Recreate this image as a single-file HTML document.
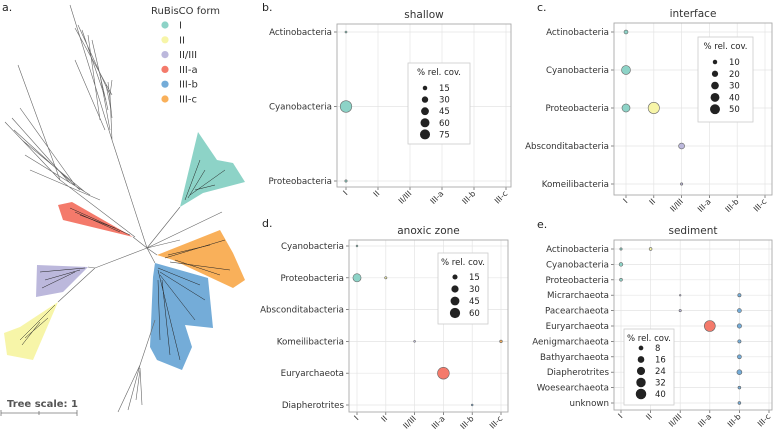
<!DOCTYPE html>
<html><head><meta charset="utf-8"><style>
body{margin:0;background:#fff;}
svg{display:block;font-family:"DejaVu Sans","Liberation Sans",sans-serif;}
</style></head><body>
<svg id="fig" width="777" height="434" viewBox="0 0 777 434">
<g id="tree">
<text x="2" y="11" font-size="11" fill="#222">a.</text>
<polygon points="180,207 198,132 217,160 233,163 245,182 203,193" fill="#8dd3c7"/>
<polygon points="58,205 72,202 133,237 63,220" fill="#f47a6b"/>
<polygon points="37,265 88,267 63,292 36,297" fill="#bcb8dc"/>
<polygon points="58,302 33,360 7,355 4,333 20,327" fill="#f7f5a8"/>
<polygon points="157,255 220,230 233,253 245,280 233,288 173,260" fill="#f9b05a"/>
<polygon points="155,263 208,278 213,328 185,325 192,347 182,370 157,360 150,347 153,277" fill="#74acd8"/>
<g stroke="#666" stroke-width="0.6" fill="none">
<path d="M147,248 L133,237 M147,248 L95,268 L88,267 M95,268 L58,302 M147,248 L180,207 M147,248 L157,255 M147,248 L155,263 M147,248 L222,212 M147,248 L180,240"/>
<path d="M147,248 L112,140 L70,5 M112,140 L110,95 L78,25 M110,95 L112,80 M105,130 L75,60 M100,120 L88,35 M108,110 L92,40 M106,100 L82,30"/>
<path d="M135,237 L60,180 L18,65 M60,180 L5,122 M80,190 L14,130 M90,195 L25,155 M75,185 L20,108 M100,200 L30,170 M70,183 L12,118 M85,192 L22,140"/>
<path d="M155,320 L140,365 L118,412 M140,365 L128,410 M140,368 L142,405 M140,370 L136,400"/>
<path d="M75,28 L112,95 M108,82 L112,118 M106,85 L111,110 M100,75 L110,130"/>
</g>
<g stroke="#222" stroke-width="0.5">
<path d="M185,200 L200,160 M190,195 L225,170 M195,190 L215,185 M188,198 L205,170"/>
<path d="M70,208 L130,235 M75,212 L120,232 M80,215 L115,228"/>
<path d="M40,272 L85,268 M45,280 L80,270 M42,288 L75,272"/>
<path d="M20,340 L55,305 M25,338 L48,318 M22,345 L40,322"/>
<path d="M165,258 L225,240 M170,262 L230,270 M175,260 L220,275 M168,255 L210,245"/>
<path d="M158,268 L200,285 M158,270 L180,360 M160,275 L195,320 M162,280 L170,355 M160,272 L205,300 M158,280 L160,340"/>
</g>
<text x="7" y="407" font-size="10" font-weight="bold" fill="#555">Tree scale: 1</text>
<path d="M1,413 L77,413 M1,410 L1,416 M39,411 L39,415 M77,410 L77,416" stroke="#777" stroke-width="0.8"/>
<text x="151" y="14" font-size="10" fill="#333">RuBisCO form</text>
<g id="treeLegend"></g>
</g>
<g id="panels"></g>
</svg>
<script>
const forms = ["I","II","II/III","III-a","III-b","III-c"];
const formColors = ["#8dd3c7","#f7f5a8","#bcb8dc","#f47a6b","#74acd8","#f9b05a"];

const bTaxa = ["Actinobacteria","Cyanobacteria","Proteobacteria"];
const bTaxon = ["Actinobacteria","Cyanobacteria","Proteobacteria"];
const bForm = ["I","I","I"];
const bCov = [3,100,4];
const bLegend = [15,30,45,60,75];

const cTaxa = ["Actinobacteria","Cyanobacteria","Proteobacteria","Absconditabacteria","Komeilibacteria"];
const cTaxon = ["Actinobacteria","Cyanobacteria","Proteobacteria","Proteobacteria","Absconditabacteria","Komeilibacteria"];
const cForm = ["I","I","I","II","II/III","II/III"];
const cCov = [8,41,33,65,18,3];
const cLegend = [10,20,30,40,50];

const dTaxa = ["Cyanobacteria","Proteobacteria","Absconditabacteria","Komeilibacteria","Euryarchaeota","Diapherotrites"];
const dTaxon = ["Cyanobacteria","Proteobacteria","Proteobacteria","Komeilibacteria","Komeilibacteria","Euryarchaeota","Diapherotrites"];
const dForm = ["I","I","II","II/III","III-c","III-a","III-b"];
const dCov = [2,38,3,2,4,80,2];
const dLegend = [15,30,45,60];

const eTaxa = ["Actinobacteria","Cyanobacteria","Proteobacteria","Micrarchaeota","Pacearchaeota","Euryarchaeota","Aenigmarchaeota","Bathyarchaeota","Diapherotrites","Woesearchaeota","unknown"];
const eTaxon = ["Actinobacteria","Actinobacteria","Cyanobacteria","Proteobacteria","Micrarchaeota","Micrarchaeota","Pacearchaeota","Pacearchaeota","Euryarchaeota","Euryarchaeota","Aenigmarchaeota","Bathyarchaeota","Diapherotrites","Woesearchaeota","unknown"];
const eForm = ["I","II","I","I","II/III","III-b","II/III","III-b","III-a","III-b","III-b","III-b","III-b","III-b","III-b"];
const eCov = [2,3,5,3,1,4,2,6,44,7,4,6,9,3,3];
const eLegend = [8,16,24,32,40];

const NS="http://www.w3.org/2000/svg";
function mk(tag,attrs,parent){const e=document.createElementNS(NS,tag);for(const k in attrs)e.setAttribute(k,attrs[k]);parent.appendChild(e);return e;}

const tl=document.getElementById('treeLegend');
forms.forEach((f,i)=>{
  const y=25+i*14.8;
  const c=mk('circle',{cx:165,cy:y,r:3.6,fill:formColors[i]},tl);
  
  
  const t=mk('text',{x:179,y:y+3.5,'font-size':10,fill:'#333'},tl);
  t.textContent=f;
  
  
});

const panels=[
 {id:'b',title:'shallow',box:[337,24,511,187],x0:346,x1:506,y0:32,y1:181,taxa:bTaxa,taxon:bTaxon,form:bForm,cov:bCov,leg:bLegend,k:0.58,lab:[262,11],lb:[408,63,470,144],ly0:88,ldy:11.6},
 {id:'c',title:'interface',box:[614,23,772,195],x0:626,x1:765,y0:32,y1:184,taxa:cTaxa,taxon:cTaxon,form:cForm,cov:cCov,leg:cLegend,k:0.7,lab:[537,11],lb:[698,37,753,122],ly0:62,ldy:11.8},
 {id:'d',title:'anoxic zone',box:[349,240,508,412],x0:357,x1:501,y0:246,y1:405,taxa:dTaxa,taxon:dTaxon,form:dForm,cov:dCov,leg:dLegend,k:0.66,lab:[262,227],lb:[438,253,488,324],ly0:277,ldy:12},
 {id:'e',title:'sediment',box:[614,240,772,410],x0:621,x1:769,y0:249,y1:403,taxa:eTaxa,taxon:eTaxon,form:eForm,cov:eCov,leg:eLegend,k:0.83,lab:[537,228],lb:[624,329,674,405],ly0:348,ldy:11.5}
];
const root=document.getElementById('panels');
panels.forEach(p=>{
  const g=mk('g',{},root);
  
  
  const xs=f=>p.x0+forms.indexOf(f)*(p.x1-p.x0)/(forms.length-1);
  const ys=t=>p.y0+p.taxa.indexOf(t)*(p.y1-p.y0)/Math.max(1,p.taxa.length-1);
  const rs=v=>p.k*Math.sqrt(v);
  const [bx0,by0,bx1,by1]=p.box;
  const lab=mk('text',{x:p.lab[0],y:p.lab[1],'font-size':11,fill:'#222'},g);
  lab.textContent=p.id+'.';
  
  
  const ti=mk('text',{x:(bx0+bx1)/2,y:by0-6,'font-size':10.5,fill:'#333','text-anchor':'middle'},g);
  ti.textContent=p.title;
  
  
  forms.forEach(f=>{
    const x=xs(f);
    const l=mk('line',{x1:x,x2:x,y1:by0,y2:by1,stroke:'#e4e4e4','stroke-width':0.7},g);
    
    
    mk('line',{x1:x,x2:x,y1:by1,y2:by1+3,stroke:'#555','stroke-width':0.7},g);
    const t=mk('text',{x:x+2,y:by1+7,'font-size':8,fill:'#333','text-anchor':'end',transform:`rotate(-45 ${x+2} ${by1+7})`},g);
    t.textContent=f;
    
    
  });
  p.taxa.forEach(tx=>{
    const y=ys(tx);
    const l=mk('line',{x1:bx0,x2:bx1,y1:y,y2:y,stroke:'#e4e4e4','stroke-width':0.7},g);
    
    
    mk('line',{x1:bx0-3,x2:bx0,y1:y,y2:y,stroke:'#555','stroke-width':0.7},g);
    const t=mk('text',{x:bx0-5,y:y+3,'font-size':8.7,fill:'#333','text-anchor':'end'},g);
    t.textContent=tx;
    
    
  });
  const fr=mk('rect',{x:bx0,y:by0,width:bx1-bx0,height:by1-by0,fill:'none',stroke:'#aaa','stroke-width':0.9},g);
  
  
  p.cov.forEach((v,i)=>{
    const c=mk('circle',{cx:xs(p.form[i]),cy:ys(p.taxon[i]),r:rs(v),fill:formColors[forms.indexOf(p.form[i])],stroke:'#666','stroke-width':0.6},g);
    
    
  });
  const [lx0,ly0b,lx1,ly1]=p.lb;
  const lg=mk('g',{},g);
  
  
  mk('rect',{x:lx0,y:ly0b,width:lx1-lx0,height:ly1-ly0b,fill:'#fff',stroke:'#ccc','stroke-width':0.8},lg);
  const lt=mk('text',{x:(lx0+lx1)/2,y:ly0b+12,'font-size':8.5,fill:'#222','text-anchor':'middle'},lg);
  lt.textContent='% rel. cov.';
  
  
  p.leg.forEach((v,i)=>{
    const y=p.ly0+i*p.ldy;
    const c=mk('circle',{cx:lx0+17,cy:y,r:rs(v),fill:'#222'},lg);
    
    
    const t=mk('text',{x:lx0+31,y:y+3,'font-size':8.5,fill:'#222'},lg);
    t.textContent=v;
    
    
  });
});
</script>
</body></html>
